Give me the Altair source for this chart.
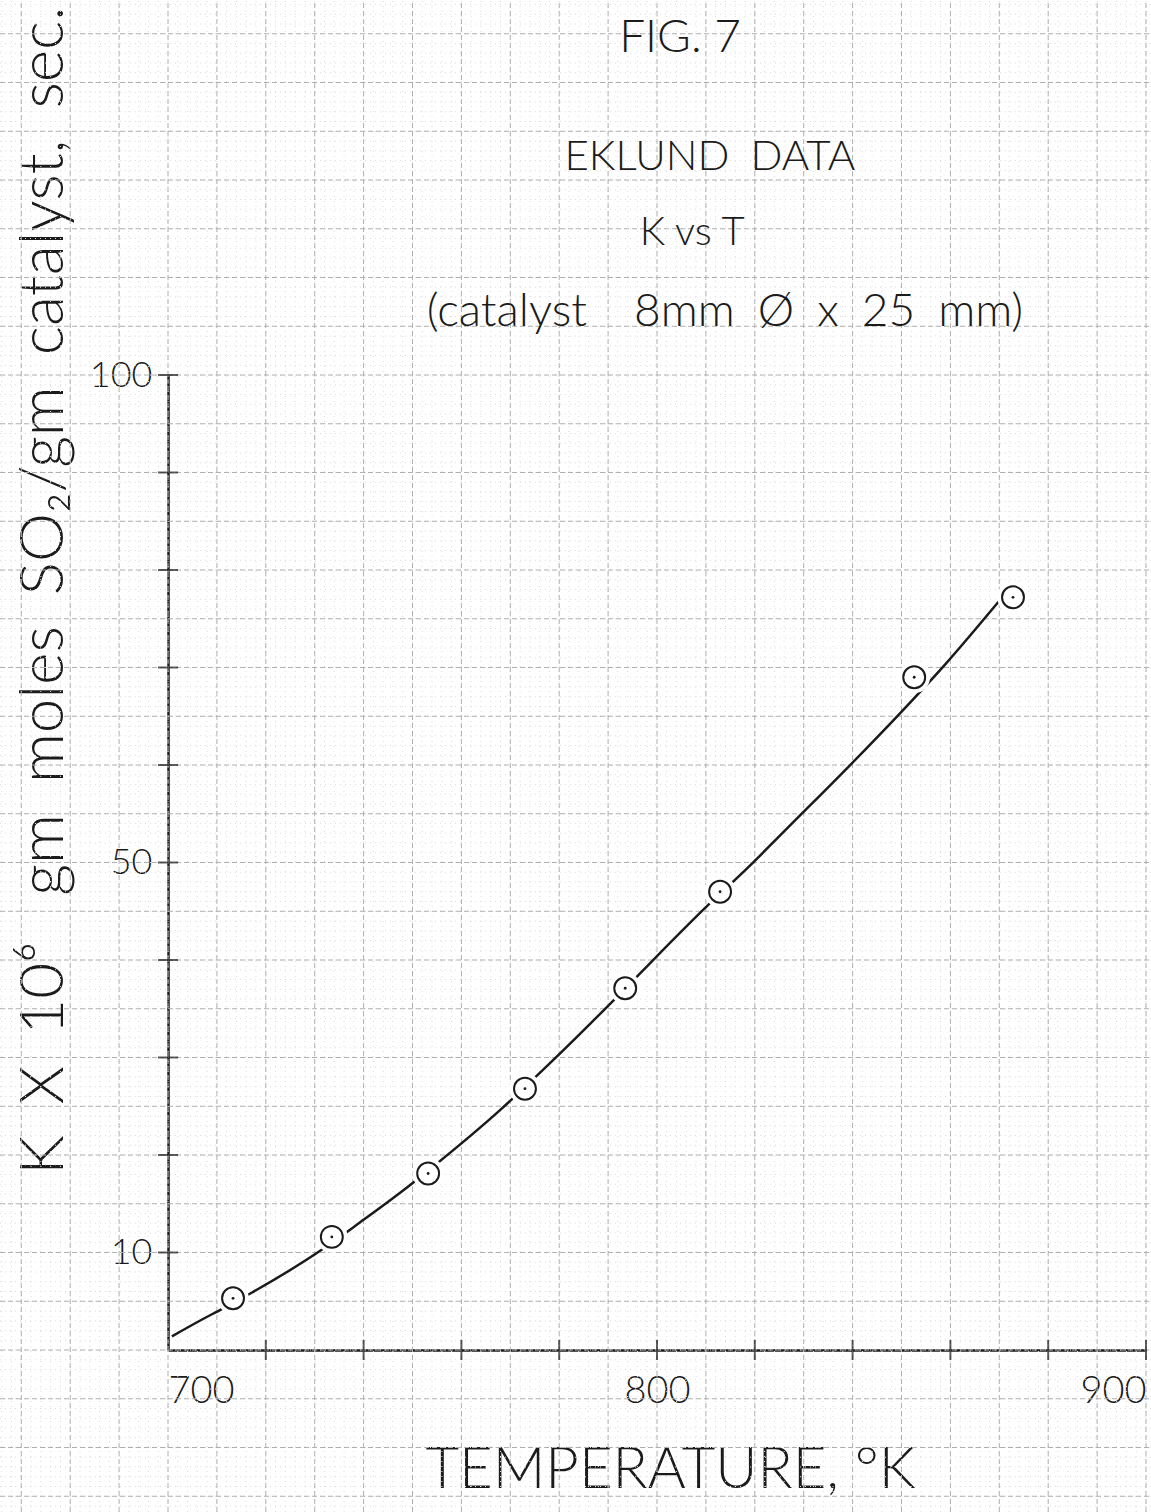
import altair as alt
import pandas as pd

# ---- data ----
temps = [713.3, 733.5, 753.2, 773.0, 793.5, 812.9, 852.6, 872.8]
k_vals = [5.3, 11.6, 18.1, 26.8, 37.1, 47.0, 69.0, 77.2]

curve_t = [700.8, 706.5, 711.0, 717.2, 731.5, 739.3, 747.4, 754.2, 767.9, 778.7,
           789.8, 795.1, 810.8, 818.0, 829.2, 839.7, 849.5, 858.9, 870.1]
curve_k = [1.4, 3.0, 4.2, 5.9, 10.3, 13.1, 16.1, 18.8, 24.6, 29.7,
           35.2, 37.9, 45.8, 49.2, 54.8, 60.1, 65.2, 70.3, 76.9]

x_tick_vals = [720, 740, 760, 780, 800, 820, 840, 860, 880, 900]
y_tick_vals = [10, 20, 30, 40, 50, 60, 70, 80, 90, 100]
x_label_vals = [700, 800, 900]
y_label_vals = [10, 50, 100]

EN = "\u2002"
EM = "\u2003"
title_lines = [
    "FIG. 7",
    "EKLUND" + EN + "DATA",
    "K vs T",
    "(catalyst" + EM + " 8mm" + EN + "Ø" + EN + "x" + EN + "25" + EN + "mm)",
]
y_title = "K" + EN + "X" + EN + "10⁶" + EM + "gm" + EN + "moles" + EN + "SO₂/gm" + EN + "catalyst," + EN + "sec."

# graph-paper ruling (tick values of the paper)
paper_x_fine = list(range(666, 901, 2))
paper_x_major = list(range(670, 901, 10))
paper_y_fine = list(range(-16, 139, 1))
paper_y_major = list(range(-15, 139, 5))

# ---- layout ----
W, H = 978, 975
PAD = {"left": 168, "top": 375, "right": 5, "bottom": 162}
T_PAGE = [700 - 168 * 200 / W, 900 + 5 * 200 / W]
K_PAGE = [-162 * 100 / H, 100 + 375 * 100 / H]

# title block anchor points (in the chart's own T / K coordinates)
TITLE_T = [804.7, 810.8, 807.2, 813.9]
TITLE_K = [134.6, 122.4, 114.6, 106.5]
TITLE_SIZE = [46, 42, 40, 46]

INK = "#1b1b1b"
FONT = "Lato"

xs = alt.Scale(domain=[700, 900], nice=False, zero=False)
ys = alt.Scale(domain=[0, 100], nice=False, zero=False)

pts = pd.DataFrame({"t": temps, "k": k_vals})
crv = pd.DataFrame({"t": curve_t, "k": curve_k})


def vgrid(vals, color, dash, width):
    return alt.Chart(pd.DataFrame({"t": vals})).mark_rule(
        color=color, strokeDash=dash, strokeWidth=width
    ).encode(
        x=alt.X("t:Q", scale=xs),
        y=alt.YDatum(K_PAGE[0], scale=ys),
        y2=alt.datum(K_PAGE[1]),
    )


def hgrid(vals, color, dash, width):
    return alt.Chart(pd.DataFrame({"k": vals})).mark_rule(
        color=color, strokeDash=dash, strokeWidth=width
    ).encode(
        y=alt.Y("k:Q", scale=ys),
        x=alt.XDatum(T_PAGE[0], scale=xs),
        x2=alt.datum(T_PAGE[1]),
    )


fine_v = vgrid(paper_x_fine, "#dcdcdc", [1, 4], 1)
fine_h = hgrid(paper_y_fine, "#dcdcdc", [1, 4], 1)
major_v = vgrid(paper_x_major, "#b0b0b0", [5, 3], 1)
major_h = hgrid(paper_y_major, "#b0b0b0", [5, 3], 1)

x_axis = alt.Axis(
    values=x_label_vals, grid=False, ticks=False, tickSize=0,
    domain=True, domainColor=INK, domainWidth=2.5,
    labelFont=FONT, labelFontSize=38, labelFontWeight=300, labelColor=INK,
    labelPadding=22, labelOverlap=False, labelFlush=False,
    labelAlign={"condition": [{"test": "datum.value == 700", "value": "left"},
                              {"test": "datum.value == 900", "value": "right"}],
                "value": "center"},
    title="TEMPERATURE, °K", titleFont=FONT, titleFontSize=58, titleFontWeight=300,
    titleColor=INK, titleX=502, titleY=120, titleAlign="center", titleBaseline="middle",
)
y_axis = alt.Axis(
    values=y_label_vals, grid=False, ticks=False, tickSize=0,
    domain=True, domainColor=INK, domainWidth=2.5,
    labelFont=FONT, labelFontSize=36, labelFontWeight=300, labelColor=INK,
    labelPadding=16, labelOverlap=False, labelFlush=False,
    title=y_title,
    titleFont=FONT, titleFontSize=62, titleFontWeight=300, titleColor=INK,
    titleX=-125, titleY=215, titleAngle=270, titleAlign="center", titleBaseline="middle",
)

line = alt.Chart(crv).mark_line(color=INK, strokeWidth=2.5, interpolate="monotone").encode(
    x=alt.X("t:Q", scale=xs, axis=x_axis),
    y=alt.Y("k:Q", scale=ys, axis=y_axis),
    order="t:Q",
)

xticks = alt.Chart(pd.DataFrame({"t": x_tick_vals})).mark_tick(
    orient="vertical", size=20, thickness=2, color=INK
).encode(
    x=alt.X("t:Q", scale=xs),
    y=alt.YDatum(0, scale=ys),
)
yticks = alt.Chart(pd.DataFrame({"k": y_tick_vals})).mark_tick(
    orient="horizontal", size=20, thickness=2, color=INK
).encode(
    y=alt.Y("k:Q", scale=ys),
    x=alt.XDatum(700, scale=xs),
)

halo = alt.Chart(pts).mark_point(shape="circle", filled=True, color="white", size=1000, opacity=1).encode(
    x=alt.X("t:Q", scale=xs), y=alt.Y("k:Q", scale=ys)
)
rings = alt.Chart(pts).mark_point(shape="circle", filled=False, color=INK, size=480, strokeWidth=2, opacity=1).encode(
    x=alt.X("t:Q", scale=xs), y=alt.Y("k:Q", scale=ys)
)
dots = alt.Chart(pts).mark_point(shape="circle", filled=True, color=INK, size=8, opacity=1).encode(
    x=alt.X("t:Q", scale=xs), y=alt.Y("k:Q", scale=ys)
)

titles = alt.Chart(pd.DataFrame({
    "line": title_lines, "t": TITLE_T, "k": TITLE_K, "s": TITLE_SIZE
})).mark_text(font=FONT, fontWeight=300, color=INK, align="center", baseline="middle").encode(
    x=alt.X("t:Q", scale=xs),
    y=alt.Y("k:Q", scale=ys),
    text="line:N",
    size=alt.Size("s:Q", scale=None, legend=None),
)

chart = alt.layer(
    fine_v, fine_h, major_v, major_h, line, xticks, yticks, halo, rings, dots, titles
).properties(
    width=W, height=H,
    padding=PAD,
    autosize=alt.AutoSizeParams(type="none"),
    background="white",
).configure_view(stroke=None)

chart.save("out.html", embed_options={"renderer": "svg", "actions": False})
